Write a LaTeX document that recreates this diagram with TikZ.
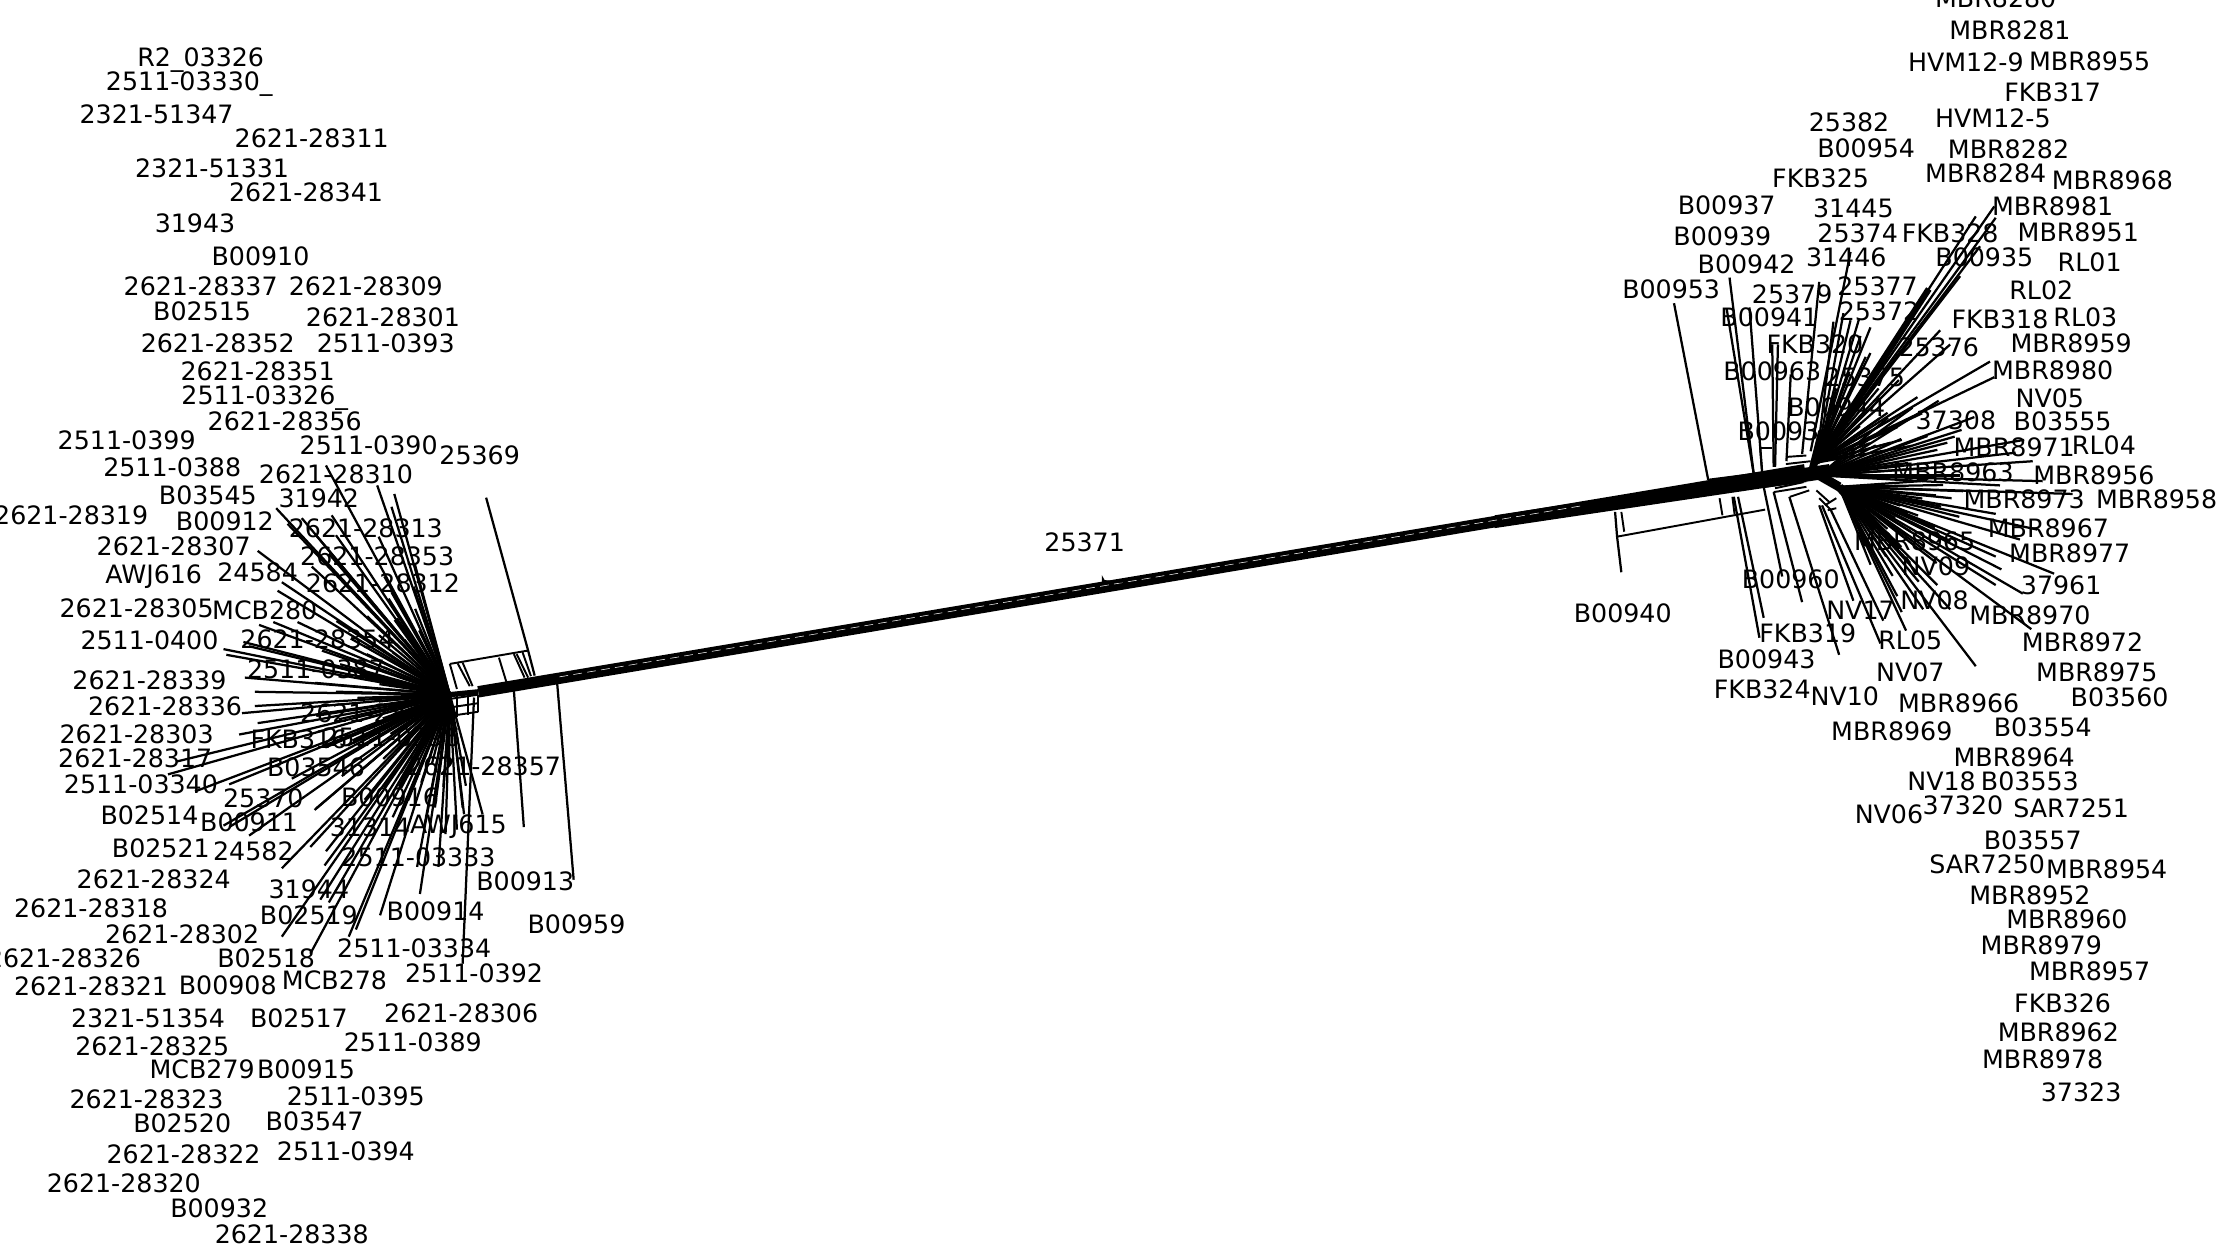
\documentclass[tikz,border=0pt]{standalone}
\usepackage{fontspec}
\setmainfont{DejaVu Sans}
\tikzset{
  taxon/.style={inner sep=0pt, font=\fontsize{7.2}{8}\selectfont},
  spoke/.style={line width=0.64pt},
  rail/.style={line width=0.55pt},
  bundle/.style={line width=1.4pt},
  band/.style={line width=3.25pt}
}
\begin{document}
\begin{tikzpicture}[x=0.0142347cm, y=-0.0142347cm]
    \useasboundingbox (0,0) rectangle (1568,882.35);

    \coordinate (bandL) at (336,486);
    \coordinate (bandR) at (1268,330);
    \coordinate (bandA) at (393,475.5);
    \coordinate (bandB) at (1110,355.5);
    \coordinate (bandC) at (1285,326);
    \coordinate (bandD) at (1285,336);
    \draw[band] (bandL) -- (bandR);
    \fill (1050,362) -- (bandC) -- (bandD) -- (1050,371) -- cycle;
    \draw[white, line width=0.15pt, dash pattern=on 2.5pt off 1.5pt] (bandA) -- (bandB);
    \fill (774,404) -- (776,407.5) -- (792,409) -- (774,410) -- cycle;

    % left fan
    \begin{scope}[shift={(3,3)}]
        \coordinate (hubL) at (313,485);
        \draw[line width=1.5pt] (hubL) -- (bandL);
        \draw[bundle] (hubL) -- (245,518);
        \draw[bundle] (hubL) -- (250,470);
        \draw[bundle] (hubL) -- (278,550);
        \draw[bundle] (hubL) -- (275,432);
        \foreach \x/\y [count=\i] in {226/324, 262/338, 274/344, 272/353, 191/354, 230/359, 209/361, 199/365,
            178/384, 219/373, 233/373, 263/374, 228/386, 216/395, 272/413, 195/406, 192/412, 206/434, 189/434,
            179/436, 168/448, 172/451, 154/453, 156/457, 169/473, 176/483, 176/493, 167/498, 178/505, 165/513,
            121/532, 115/541, 134/553, 158/548, 154/577, 158/578, 172/584, 202/544, 219/565, 218/566, 195/607,
            215/592, 226/595, 225/605, 222/629, 228/631, 195/655, 215/667, 242/655, 247/650, 264/640, 292/625,
            290/606, 305/606, 310/583, 323/569, 336/569} {
            \coordinate (tipL\i) at (\x,\y);
            \draw[spoke] (hubL) -- (tipL\i);
        }
        \foreach \a [count=\i] in {80,83.5,...,256} {
            \pgfmathsetmacro\r{50+15*mod(\i,4)}
            \draw[spoke] (hubL) -- ++(\a:\r);
        }
        \coordinate (tipA) at (400,615);
        \coordinate (tipB) at (365,578);
        \coordinate (tipC) at (322,674);
        \coordinate (footA) at (388,472);
        \coordinate (footB) at (358,482);
        \coordinate (footC) at (330,487);
        \draw[spoke] (footA) -- (tipA);
        \draw[spoke] (footB) -- (tipB);
        \draw[spoke] (footC) -- (tipC);
        \coordinate (tipD) at (338.5,346.6);
        \coordinate (railA) at (313,463.4);
        \coordinate (railB) at (368,454);
        \coordinate (railC) at (372.6,471.6);
        \draw[spoke] (tipD) -- (railB) -- (railC);
        \draw[rail] (railA) -- (railB);
        \draw[rail] (railA) -- (318,481);
        \draw[rail] (318.5,463) -- (327,479);
        \draw[rail] (322,462.5) -- (329,479);
        \draw[rail] (347.5,459) -- (352.7,476);
        \draw[rail] (358,456.5) -- (365.5,473);
        \draw[rail] (360,456.5) -- (368,473);
        \draw[rail] (364,455) -- (370,472);
        \draw[rail] (313,488) -- (333,485);
        \draw[rail] (313,494) -- (333,491);
        \draw[rail] (313,500) -- (333,497);
        \draw[rail] (318,486) -- (318,501);
        \draw[rail] (326,485) -- (326,499);
        \draw[rail] (333,485) -- (333,497);
    \end{scope}

    % right fans
    \begin{scope}[shift={(10,3)}]
        \coordinate (hubRu) at (1266,322);
        \coordinate (hubRm) at (1268,331);
        \coordinate (hubRd) at (1282,339);
        \draw[line width=2.6pt] (hubRm) -- (hubRd);
        \draw[line width=1.8pt] (hubRu) -- (1345,200);
        \draw[line width=2.2pt] (1262,332) -- (1270,300);
        \draw[line width=2.4pt] (hubRd) -- (1308,368);
        \draw[bundle] (hubRd) -- (1325,382);
        \draw[bundle] (hubRd) -- (1330,358);
        \foreach \x/\y/\u/\v [count=\i] in {1205/192/1222/330, 1203/214/1222/330, 1219/213/1228/330, 1235/239/1236/325,
            1239/239/1237/325, 1248/260/1245/321, 1268/195/1256/316, 1290/174/1262/314} {
            \coordinate (tipP\i) at (\x,\y);
            \coordinate (footP\i) at (\u,\v);
            \draw[spoke] (tipP\i) -- (footP\i);
        }
        \foreach \x/\y [count=\i] in {1278/223, 1285/217, 1290/222, 1296/221, 1304/227, 1297/233, 1304/245,
            1378/149, 1391/142, 1392/150, 1381/170, 1367/191, 1353/229, 1360/239, 1388/251, 1391/262, 1337/276,
            1316/287, 1323/297, 1326/306} {
            \coordinate (tipU\i) at (\x,\y);
            \draw[spoke] (hubRu) -- (tipU\i);
        }
        \foreach \x/\y [count=\i] in {1377/290, 1368/299, 1358/308, 1351/313, 1412/306, 1406/315, 1418/321,
            1425/335, 1395/338} {
            \coordinate (tipM\i) at (\x,\y);
            \draw[spoke] (hubRm) -- (tipM\i);
        }
        \foreach \x/\y [count=\i] in {1361/347, 1446/344, 1350/345, 1392/358, 1409/376, 1421/369, 1433/400, 1392/388,
            1396/397, 1411/414, 1392/408, 1326/427, 1329/440, 1341/425, 1351/408, 1360/425, 1378/465, 1417/439} {
            \coordinate (tipD\i) at (\x,\y);
            \draw[spoke] (hubRd) -- (tipD\i);
        }
        \foreach \a [count=\i] in {285,290,...,350} {
            \pgfmathsetmacro\r{40+14*mod(\i,4)}
            \draw[spoke] (hubRu) -- ++(\a:\r);
        }
        \foreach \a [count=\i] in {-40,-36,...,0} {
            \pgfmathsetmacro\r{45+18*mod(\i,4)}
            \draw[spoke] (hubRm) -- ++(\a:\r);
        }
        \foreach \a [count=\i] in {-4,-1,...,68} {
            \pgfmathsetmacro\r{45+14*mod(\i,4)}
            \draw[spoke] (hubRd) -- ++(\a:\r);
        }
        \coordinate (tipE) at (1166,210);
        \coordinate (footE) at (1190,334);
        \coordinate (footF) at (1229,329);
        \draw[spoke] (tipE) -- (footE);
        \draw[rail] (footE) -- (footF);
        \coordinate (tipF) at (1129,399);
        \coordinate (footG) at (1126,374);
        \coordinate (footH) at (1230,355);
        \draw[spoke] (tipF) -- (footG) -- (1124.6,356.6);
        \draw[rail] (1129,356.6) -- (1131,370.5);
        \draw[rail] (footG) -- (footH);
        \draw[rail] (1198,347) -- (1200,359);
        \draw[rail] (1207,346) -- (1208.5,358);
        \draw[spoke] (1208,346) -- (1226,445);
        \draw[spoke] (1211,346) -- (1229,431);
        \draw[spoke] (1229,339) -- (1242,402);
        \draw[spoke] (1236,342.7) -- (1256,420);
        \draw[spoke] (1247,346) -- (1282,457);
        \draw[spoke] (1268,352) -- (1292,419);
        \draw[spoke] (1270,352) -- (1311,449);
        \draw[spoke] (1276,355) -- (1313,433);
        \draw[rail] (1230,339) -- (1259,335);
        \draw[rail] (1236,342.7) -- (1259,339);
        \draw[rail] (1237,340) -- (1257,335.7);
        \draw[rail] (1247.4,346) -- (1261,341.5);
        \draw[rail] (1266,341.5) -- (1275,349.6);
        \draw[rail] (1272,352) -- (1280,347);
        \draw[rail] (1274,355.4) -- (1280,354);
        \draw[rail] (1268,347) -- (1276,355);
        \draw[rail] (1226.5,312) -- (1235,312);
        \draw[rail] (1244.6,318) -- (1259,317);
        \draw[rail] (1244.6,323) -- (1262,321);
        \draw[rail] (1226.5,312) -- (1228,330);
    \end{scope}

    % labels
    \foreach \x/\y/\t [count=\i] in {141/42/R2\_03326, 133/59/2511-03330\_, 110/80/2321-51347, 219/97/2621-28311,
        149/118/2321-51331, 215/135/2621-28341, 137/157/31943, 183/180/B00910, 141/201/2621-28337, 257/201/2621-28309,
        142/219/B02515, 269/223/2621-28301, 153/241/2621-28352, 271/241/2511-0393, 181/261/2621-28351,
        186/280/2511-03326\_, 200/296/2621-28356, 89/309/2511-0399, 259/313/2511-0390, 337/320/25369, 121/328/2511-0388,
        236/333/2621-28310, 146/348/B03545, 224/350/31942, 50/362/2621-28319, 158/366/B00912, 257/371/2621-28313,
        122/384/2621-28307, 265/391/2621-28353, 181/402/24584, 108/405/AWJ616, 269/410/2621-28312, 96/427/2621-28305,
        186/429/MCB280, 223/449/2621-28354, 105/450/2511-0400, 222/470/2511-0387, 105/478/2621-28339, 116/496/2621-28336,
        265/501/2621-28355, 96/516/2621-28303, 210/519/FKB316, 275/518/2511-0396, 95/533/2621-28317, 222/539/B03546,
        340/538/2621-28357, 99/551/2511-03340, 185/561/25370, 274/560/B00916, 105/573/B02514, 175/578/B00911,
        322/581/AWJ615, 260/581/31314, 113/596/B02521, 178/598/24582, 294/602/2511-03333, 108/618/2621-28324,
        369/619/B00913, 217/625/31944, 64/638/2621-28318, 217/643/B02519, 306/640/B00914, 405/649/B00959,
        128/656/2621-28302, 187/673/B02518, 45/673/2621-28326, 291/666/2511-03334, 333/684/2511-0392, 235/689/MCB278,
        64/693/2621-28321, 160/692/B00908, 104/715/2321-51354, 210/715/B02517, 324/712/2621-28306, 290/732/2511-0389,
        107/735/2621-28325, 142/751/MCB279, 215/751/B00915, 103/772/2621-28323, 250/770/2511-0395, 128/789/B02520,
        221/788/B03547, 129/811/2621-28322, 243/809/2511-0394, 87/831/2621-28320, 154/849/B00932, 205/867/2621-28338,
        762/381/25371, 1140/431/B00940,
        1402/-1/MBR8280, 1412/21/MBR8281, 1381/44/HVM12-9, 1468/43/MBR8955, 1442/65/FKB317, 1299/86/25382,
        1400/83/HVM12-5, 1311/104/B00954, 1411/105/MBR8282, 1395/122/MBR8284, 1279/125/FKB325, 1484/127/MBR8968,
        1213/144/B00937, 1302/146/31445, 1442/145/MBR8981, 1210/166/B00939, 1305/164/25374, 1370/164/FKB328,
        1460/163/MBR8951, 1227/186/B00942, 1297/181/31446, 1394/181/B00935, 1468/184/RL01, 1174/203/B00953,
        1259/207/25379, 1319/201/25377, 1434/204/RL02, 1243/223/B00941, 1320/219/25372, 1405/224/FKB318, 1465/223/RL03,
        1275/242/FKB320, 1362/244/25376, 1455/241/MBR8959, 1245/261/B00963, 1310/265/25375, 1442/260/MBR8980,
        1440/280/NV05, 1290/286/B00944, 1374/295/37308, 1449/296/B03555, 1255/303/B00934, 1415/314/MBR8971, 1478/313/RL04,
        1372/332/MBR8963, 1471/334/MBR8956, 1422/351/MBR8973, 1515/351/MBR8958, 1439/371/MBR8967, 1345/380/MBR8965,
        1454/389/MBR8977, 1360/398/NV09, 1448/411/37961, 1258/407/B00960, 1359/422/NV08, 1307/429/NV17, 1426/432/MBR8970,
        1270/445/FKB319, 1342/450/RL05, 1463/451/MBR8972, 1241/463/B00943, 1342/472/NV07, 1473/472/MBR8975,
        1238/484/FKB324, 1296/489/NV10, 1489/490/B03560, 1376/494/MBR8966, 1435/511/B03554, 1329/514/MBR8969,
        1415/532/MBR8964, 1364/549/NV18, 1426/549/B03553, 1379/566/37320, 1455/568/SAR7251, 1327/572/NV06,
        1428/590/B03557, 1396/607/SAR7250, 1480/611/MBR8954, 1426/629/MBR8952, 1452/646/MBR8960, 1434/664/MBR8979,
        1468/682/MBR8957, 1449/705/FKB326, 1446/725/MBR8962, 1435/744/MBR8978, 1462/767/37323} {
        \node[taxon] (taxon\i) at (\x,\y) {\t};
    }
\end{tikzpicture}
\end{document}
